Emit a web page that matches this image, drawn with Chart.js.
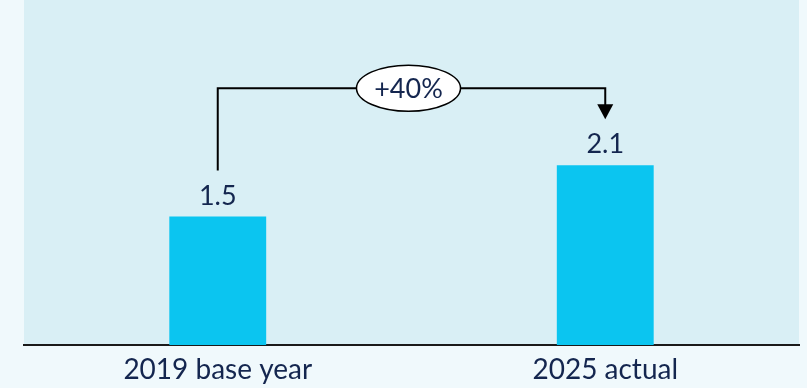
<!DOCTYPE html>
<html>
<head>
<meta charset="utf-8">
<script src="https://cdn.jsdelivr.net/npm/chart.js@4.4.1/dist/chart.umd.min.js"></script>
<style>
  html, body { margin: 0; padding: 0; background: #f0f9fc; }
  #wrap { width: 807px; height: 388px; }
</style>
</head>
<body>
<div id="wrap"><canvas id="barChart"></canvas></div>
<script>
// data
var categories = ['2019 base year', '2025 actual'];
var values = [1.5, 2.1];

var textColor = '#14264f';
var fontFamily = 'Lato, "Noto Sans", sans-serif';

// panel behind the plot area
var panelPlugin = {
  id: 'panel',
  beforeDraw: function (chart) {
    var a = chart.chartArea;
    var ctx = chart.ctx;
    ctx.save();
    ctx.fillStyle = '#d9eff5';
    ctx.fillRect(a.left, a.top, a.right - a.left, a.bottom - a.top);
    ctx.restore();
  },
};

// value labels + growth bracket
var labelPlugin = {
  id: 'labels',
  afterDatasetsDraw: function (chart) {
    var ctx = chart.ctx;
    var bars = chart.getDatasetMeta(0).data;
    var y = chart.scales.y;
    ctx.save();
    ctx.fillStyle = textColor;
    ctx.font = '27px ' + fontFamily;
    ctx.textAlign = 'center';
    ctx.textBaseline = 'alphabetic';
    bars.forEach(function (bar, i) {
      ctx.fillText(values[i].toFixed(1), bar.x, bar.y - 12);
    });

    // bracket
    var b1 = bars[0], b2 = bars[1];
    var top = y.getPixelForValue(3.0);
    var start = b1.y - 46;
    var tip = b2.y - 46;
    ctx.strokeStyle = '#000';
    ctx.lineWidth = 2;
    ctx.beginPath();
    ctx.moveTo(b1.x, start);
    ctx.lineTo(b1.x, top);
    ctx.lineTo(b2.x, top);
    ctx.lineTo(b2.x, tip - 14);
    ctx.stroke();
    // arrow head
    ctx.fillStyle = '#000';
    ctx.beginPath();
    ctx.moveTo(b2.x - 8, tip - 15);
    ctx.lineTo(b2.x + 8, tip - 15);
    ctx.lineTo(b2.x, tip);
    ctx.closePath();
    ctx.fill();

    // bubble
    var cx = b1.x + (b2.x - b1.x) * 0.5 - 3;
    ctx.beginPath();
    ctx.ellipse(cx, top, 52, 23, 0, 0, Math.PI * 2);
    ctx.fillStyle = '#fff';
    ctx.fill();
    ctx.lineWidth = 1.5;
    ctx.stroke();
    var pct = Math.round((values[1] / values[0] - 1) * 100);
    ctx.fillStyle = textColor;
    ctx.font = '27px ' + fontFamily;
    ctx.textBaseline = 'middle';
    ctx.fillText('+' + pct + '%', cx, top + 1);
    ctx.restore();
  },
};

var ctxBar = document.getElementById('barChart').getContext('2d');
var chartBar = new Chart(ctxBar, {
  type: 'bar',
  data: {
    labels: categories,
    datasets: [
      {
        data: values,
        backgroundColor: '#0bc5f0',
        borderWidth: 0,
        barPercentage: 0.25,
        categoryPercentage: 1,
      },
    ],
  },
  options: {
    responsive: true,
    maintainAspectRatio: false,
    animation: false,
    layout: {
      padding: { left: 24, right: 8, top: 0, bottom: 0 },
    },
    plugins: {
      legend: { display: false },
      tooltip: { enabled: false },
    },
    scales: {
      x: {
        grid: { display: false, drawTicks: false },
        border: { display: true, color: '#1a1a1a', width: 2 },
        ticks: {
          color: textColor,
          font: { family: fontFamily, size: 28 },
          padding: 8,
        },
        afterFit: function (s) {
          s.height = 43;
        },
      },
      y: {
        display: false,
        min: 0,
        max: 4.03,
      },
    },
  },
  plugins: [panelPlugin, labelPlugin],
});
</script>
</body>
</html>
